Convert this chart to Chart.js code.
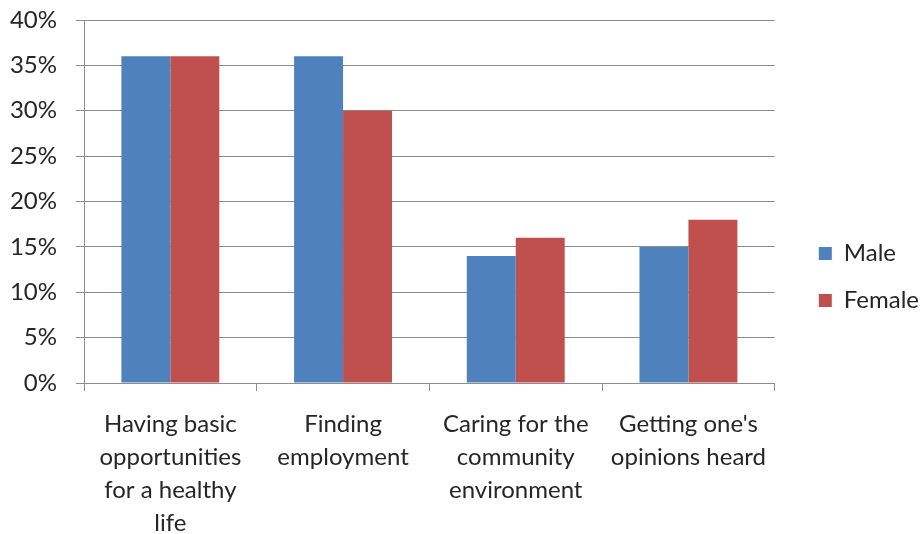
<!DOCTYPE html>
<html>
<head>
<meta charset="utf-8">
<script src="https://cdn.jsdelivr.net/npm/chart.js@4/dist/chart.umd.min.js"></script>
<style>
    html, body { margin: 0; padding: 0; background: #fff; }
    #wrap { width: 921px; height: 534px; }
</style>
</head>
<body>
<div id="wrap"><canvas id="chart" width="921" height="534"></canvas></div>
<script>
const categories = [
    ['Having basic', 'opportunities', 'for a healthy', 'life'],
    ['Finding', 'employment'],
    ['Caring for the', 'community', 'environment'],
    ["Getting one's", 'opinions heard']
];
const maleValues = [36, 36, 14, 15];
const femaleValues = [36, 30, 16, 18];
const yTicks = [0, 5, 10, 15, 20, 25, 30, 35, 40];

const gridGrey = '#8c8c8c';
const textColor = '#262626';
const fontFamily = 'Lato, "Liberation Sans", sans-serif';

const ctx = document.querySelector('#chart').getContext('2d');
const chart = new Chart(ctx, {
    type: 'bar',
    data: {
        labels: categories,
        datasets: [{
            label: 'Male',
            data: maleValues,
            backgroundColor: '#4f81bd'
        }, {
            label: 'Female',
            data: femaleValues,
            backgroundColor: '#c0504d'
        }]
    },
    options: {
        responsive: false,
        animation: false,
        devicePixelRatio: 1,
        datasets: {
            bar: {
                barPercentage: 1,
                categoryPercentage: 0.567
            }
        },
        layout: {
            padding: { top: 20, right: -8, bottom: 0, left: 0 }
        },
        plugins: {
            tooltip: { enabled: false },
            legend: {
                position: 'right',
                labels: {
                    boxWidth: 13,
                    boxHeight: 13,
                    padding: 23,
                    color: textColor,
                    font: { family: fontFamily, size: 24 }
                }
            }
        },
        scales: {
            x: {
                afterFit: (axis) => {
                    axis.height = 151;
                    axis.paddingLeft = 0;
                    axis.paddingRight = 0;
                },
                grid: {
                    drawOnChartArea: false,
                    drawTicks: true,
                    tickLength: 8,
                    color: gridGrey,
                    offset: true
                },
                border: { color: gridGrey, width: 1 },
                ticks: {
                    color: textColor,
                    padding: 17,
                    maxRotation: 0,
                    autoSkip: false,
                    font: { family: fontFamily, size: 24, lineHeight: 1.375 }
                }
            },
            y: {
                min: 0,
                max: 40,
                afterBuildTicks: (axis) => {
                    axis.ticks = yTicks.map(v => ({ value: v }));
                },
                afterFit: (axis) => {
                    axis.width = 84;
                    axis.paddingTop = 0;
                    axis.paddingBottom = 0;
                },
                grid: {
                    color: gridGrey,
                    tickLength: 8
                },
                border: { color: gridGrey, width: 1 },
                ticks: {
                    color: textColor,
                    padding: 19,
                    callback: (v) => v + '%',
                    font: { family: fontFamily, size: 24 }
                }
            },
            // empty axis that only keeps the gap between the plot and the legend
            gap: {
                position: 'right',
                display: true,
                grid: { display: false, drawTicks: false },
                border: { display: false },
                ticks: { display: false },
                afterFit: (axis) => {
                    axis.width = 21;
                }
            }
        }
    }
});
</script>
</body>
</html>
